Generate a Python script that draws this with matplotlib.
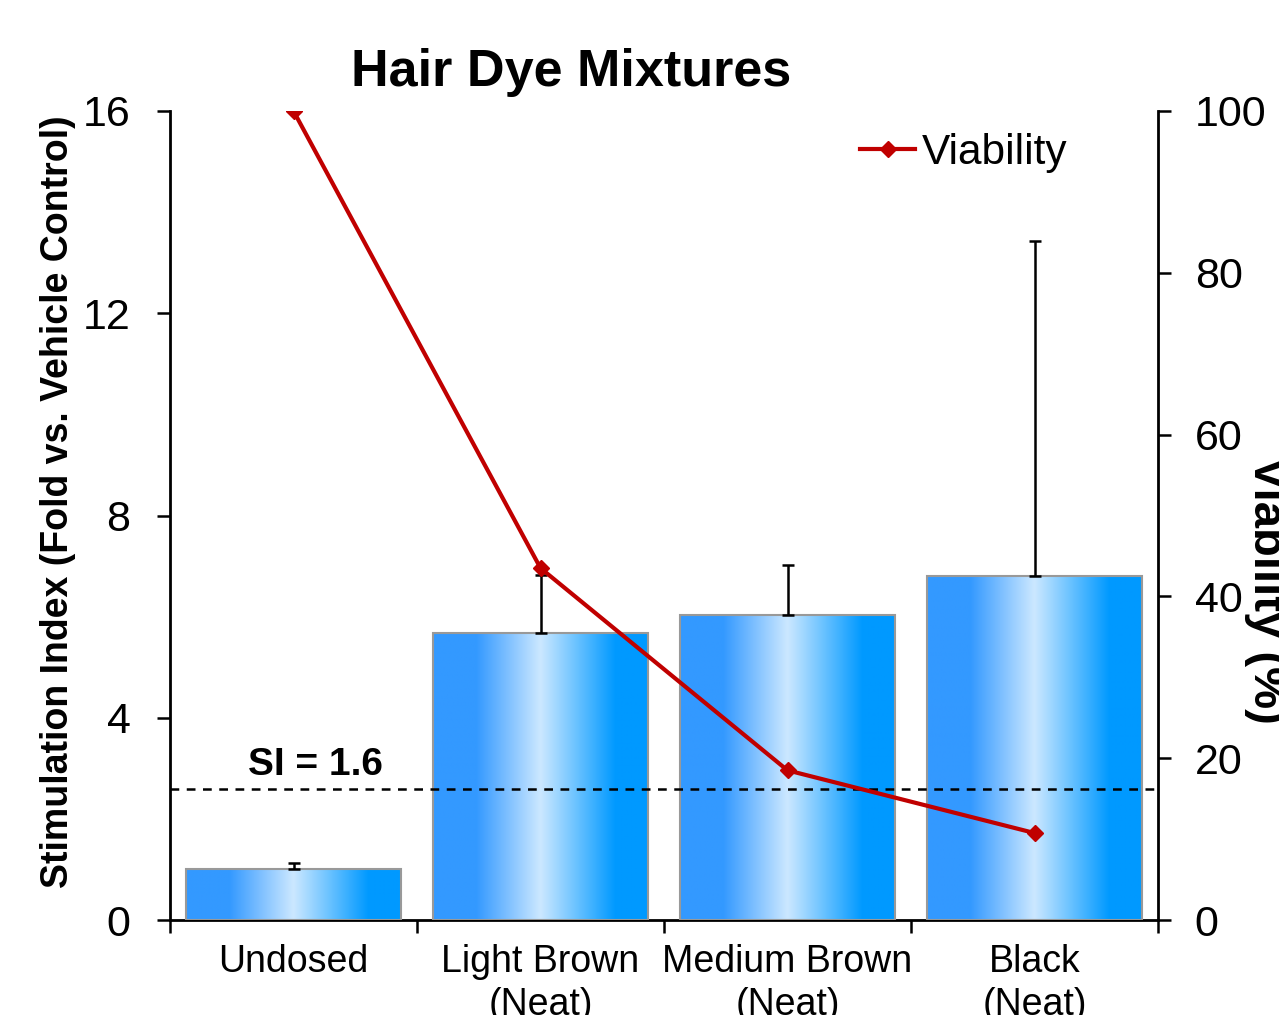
import matplotlib
matplotlib.use("Agg")
import matplotlib.pyplot as plt
import numpy as np
from matplotlib.colors import LinearSegmentedColormap
from matplotlib.patches import Rectangle

plt.rcParams['font.family'] = ['Liberation Sans', 'DejaVu Sans']

categories = ["Undosed", "Light Brown\n(Neat)", "Medium Brown\n(Neat)", "Black\n(Neat)"]
si_values = [1.0, 5.68, 6.03, 6.8]
si_errors = [0.12, 1.14, 1.0, 6.63]
viability = [100, 43.5, 18.5, 10.75]
si_threshold = 2.59

W, H = 1279, 1015
fig = plt.figure(figsize=(W/100, H/100), dpi=100)
ax = fig.add_axes([170/W, (H-920)/H, 988/W, 809/H])

cmap = LinearSegmentedColormap.from_list("barg", [
    (0.0, "#3399FF"), (0.2, "#3399FF"), (0.5, "#CCE8FF"),
    (0.85, "#0099FF"), (1.0, "#0099FF")])
grad = np.linspace(0, 1, 256).reshape(1, -1)

x = np.arange(len(categories))
bw = 0.87
for xi, v in zip(x, si_values):
    ax.imshow(grad, extent=[xi - bw/2, xi + bw/2, 0, v], aspect='auto',
              cmap=cmap, origin='lower', zorder=2, interpolation='bilinear')
    ax.add_patch(Rectangle((xi - bw/2, 0), bw, v, facecolor='none',
                           edgecolor='#999999', linewidth=1.5, zorder=3))
ax.errorbar(x, si_values, yerr=[np.zeros(len(x)), si_errors], fmt='none',
            ecolor='black', elinewidth=1.8, capsize=4.5, capthick=1.8, zorder=4)

ax.axhline(si_threshold, color='black', linestyle=(0, (3.5, 3)), linewidth=1.8, zorder=5)
ax.text(0.087, si_threshold + 0.12, "SI = 1.6", fontsize=28, fontweight='bold',
        ha='center', va='bottom', zorder=6)

ax.set_xlim(-0.5, 3.5)
ax.set_ylim(0, 16)
ax.set_yticks([0, 4, 8, 12, 16])
ax.set_xticks([-0.5, 0.5, 1.5, 2.5, 3.5])
ax.set_xticklabels([])
ax.set_xticks(x, minor=True)
ax.set_xticklabels(categories, minor=True, fontsize=27, linespacing=1.25)
ax.tick_params(axis='x', which='minor', length=0, pad=17)
ax.tick_params(axis='x', which='major', length=9.5, width=1.8, direction='out')
ax.tick_params(axis='y', labelsize=31, length=9.5, width=1.8, direction='out', pad=19)
for s in ['top', 'right']:
    ax.spines[s].set_visible(False)
for s in ['left', 'bottom']:
    ax.spines[s].set_linewidth(2)

ax2 = ax.twinx()
ax2.set_ylim(0, 100)
ax2.set_yticks([0, 20, 40, 60, 80, 100])
ax2.plot(x, viability, color='#C00000', linewidth=3, marker='D', markersize=8,
         label='Viability', zorder=10)
for s in ['top', 'left', 'bottom']:
    ax2.spines[s].set_visible(False)
ax2.spines['right'].set_linewidth(2)
ax2.tick_params(axis='y', labelsize=31, length=9.5, width=1.8, direction='out', pad=17)
ax2.legend(loc='center left', bbox_to_anchor=(860/W, 1 - 153/H),
           bbox_transform=fig.transFigure, frameon=False, borderpad=0,
           borderaxespad=0, fontsize=30.5, handlelength=1.3, handletextpad=0.15)

fig.text(58/W, 1 - 502/H, "Stimulation Index (Fold vs. Vehicle Control)",
         fontsize=27, fontweight='bold', rotation=90, ha='center', va='center')
fig.text(1266/W, 1 - 590/H, "Viability (%)", fontsize=34, fontweight='bold',
         rotation=270, ha='center', va='center')
fig.text(571/W, 1 - 86/H, "Hair Dye Mixtures", fontsize=37.5, fontweight='bold',
         ha='center', va='baseline')

fig.savefig("out.png", dpi=100)
